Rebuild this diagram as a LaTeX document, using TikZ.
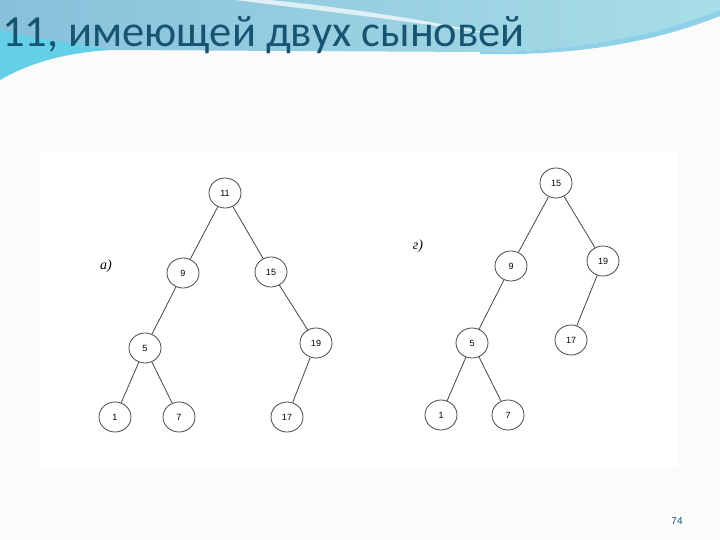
\documentclass[tikz,border=0pt]{standalone}
\usepackage{fontspec}
\setmainfont{Liberation Sans}
\newfontfamily\titlefont{Carlito}
\newfontfamily\labelfont{Liberation Serif}
\usetikzlibrary{shapes.geometric}
\definecolor{titlecol}{RGB}{22,84,112}
\definecolor{wavetop}{RGB}{136,192,218}
\definecolor{waveright}{RGB}{168,222,232}
\definecolor{wavecyan}{RGB}{90,212,236}
\definecolor{bandcyan}{RGB}{70,180,220}
\definecolor{pagebg}{RGB}{251,251,251}
\definecolor{edgecol}{RGB}{70,70,70}
\begin{document}
\begin{tikzpicture}[x=1pt,y=-1pt,
  treenode/.style={ellipse, draw=edgecol, line width=0.8pt, minimum width=32pt, minimum height=30pt, inner sep=0pt, fill=white, font=\fontsize{9}{10}\selectfont},
  treeedge/.style={draw=edgecol, line width=0.8pt},
  panellabel/.style={font=\labelfont\itshape\fontsize{14}{14}\selectfont}]
\useasboundingbox (0,0) rectangle (720,540);
% page background
\fill[pagebg] (0,0) rectangle (720,540);
% wave header
\shade[left color=wavetop, right color=waveright]
  (0,0) -- (720,0) -- (720,10) .. controls (650,38) and (570,52) .. (480,52)
  -- (110,50) .. controls (70,52) and (30,62) .. (0,80) -- cycle;
\fill[wavecyan, opacity=0.8] (0,30) .. controls (40,40) and (80,44) .. (110,50)
  .. controls (70,52) and (30,62) .. (0,80) -- cycle;
\fill[white, opacity=0.7] (235,0) .. controls (330,12) and (420,22) .. (500,36)
  .. controls (420,18) and (330,6) .. (270,0) -- cycle;
\fill[bandcyan, opacity=0.6] (480,52) .. controls (570,52) and (650,38) .. (720,10)
  -- (720,16) .. controls (650,44) and (570,56) .. (480,54) -- cycle;
% title
\node[anchor=base west, inner sep=0pt, text=titlecol, font=\titlefont\fontsize{44.5}{44}\selectfont] (title) at (2,47) {11, имеющей двух сыновей};
% picture area
\fill[white] (40,152) rectangle (678,467);
% tree a)
\node[panellabel] (la) at (106,266) {а)};
\node[treenode] (a11) at (225,193) {11};
\node[treenode] (a9) at (183,273) {9};
\node[treenode] (a15) at (271,272) {15};
\node[treenode] (a5) at (145,348) {5};
\node[treenode] (a19) at (316,343) {19};
\node[treenode] (a1) at (115,417) {1};
\node[treenode] (a7) at (179,417) {7};
\node[treenode] (a17) at (287,417) {17};
\draw[treeedge] (a11) -- (a9);
\draw[treeedge] (a11) -- (a15);
\draw[treeedge] (a9) -- (a5);
\draw[treeedge] (a15) -- (a19);
\draw[treeedge] (a5) -- (a1);
\draw[treeedge] (a5) -- (a7);
\draw[treeedge] (a19) -- (a17);
% tree g)
\node[panellabel] (lg) at (418,246) {г)};
\node[treenode] (g15) at (556,183) {15};
\node[treenode] (g9) at (511,266) {9};
\node[treenode] (g19) at (603,261) {19};
\node[treenode] (g5) at (472,343) {5};
\node[treenode] (g17) at (571,340) {17};
\node[treenode] (g1) at (441,415) {1};
\node[treenode] (g7) at (508,415) {7};
\draw[treeedge] (g15) -- (g9);
\draw[treeedge] (g15) -- (g19);
\draw[treeedge] (g9) -- (g5);
\draw[treeedge] (g19) -- (g17);
\draw[treeedge] (g5) -- (g1);
\draw[treeedge] (g5) -- (g7);
% page number
\node[text=titlecol, font=\fontsize{10}{10}\selectfont] (pnum) at (677,521) {74};
\end{tikzpicture}
\end{document}
